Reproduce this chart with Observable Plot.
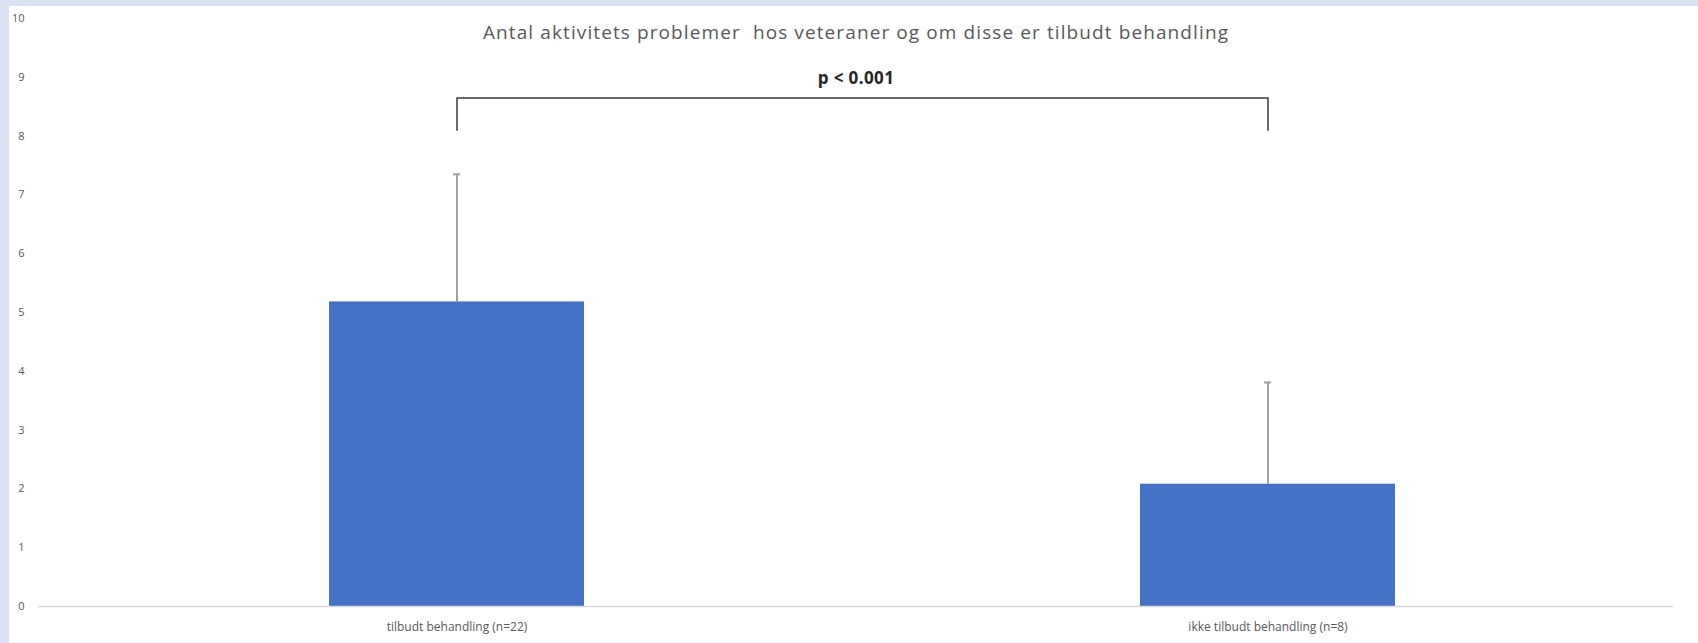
<!DOCTYPE html>
<html>
<head>
<meta charset="utf-8">
<script src="https://cdn.jsdelivr.net/npm/d3@7"></script>
<script src="https://cdn.jsdelivr.net/npm/@observablehq/plot@0.6"></script>
<style>
  html, body { margin: 0; padding: 0; background: #dae3f3; }
  #wrap { position: absolute; left: 9px; top: 6px; width: 1689px; height: 637px; background: #ffffff; }
  svg { font-family: "Open Sans", "Liberation Sans", sans-serif; }
  .ttl text { letter-spacing: 1.1px; }
  .pval text { letter-spacing: 0.4px; }
</style>
</head>
<body>
<div id="wrap"></div>
<script>
const categories = ["tilbudt behandling (n=22)", "ikke tilbudt behandling (n=8)"];
const means = [5.18, 2.08];
const sds = [2.17, 1.73];
const yTicks = [0, 1, 2, 3, 4, 5, 6, 7, 8, 9, 10];
const title = "Antal aktivitets problemer  hos veteraner og om disse er tilbudt behandling";
const pLabel = "p < 0.001";
const bracketLow = 8.1;
const bracketHigh = 8.65;

const rows = categories.map((c, i) => ({cat: c, mean: means[i], top: means[i] + sds[i]}));
const bracket = [
  {cat: categories[0], y: bracketLow},
  {cat: categories[0], y: bracketHigh},
  {cat: categories[1], y: bracketHigh},
  {cat: categories[1], y: bracketLow}
];

const chart = Plot.plot({
  width: 1689,
  height: 637,
  marginLeft: 29,
  marginRight: 25,
  marginTop: 12,
  marginBottom: 37,
  style: {background: "#ffffff", color: "#595959", fontSize: "11px"},
  x: {domain: categories, paddingInner: 0.685, paddingOuter: 0.35, align: 0.512, label: null},
  y: {domain: [0, 10], ticks: yTicks, label: null},
  marks: [
    Plot.axisY({ticks: yTicks, tickSize: 0, tickPadding: 14, fontSize: 11, fill: "#595959", label: null}),
    Plot.axisX({tickSize: 0, tickPadding: 16, fontSize: 12, fill: "#595959", label: null}),
    Plot.barY(rows, {x: "cat", y: "mean", fill: "#4472c4"}),
    Plot.ruleY([0], {stroke: "#d9d9d9", strokeWidth: 1.5}),
    Plot.ruleX(rows, {x: "cat", y1: "mean", y2: "top", stroke: "#a0a0a0", strokeWidth: 2}),
    Plot.tickY(rows, {x: "cat", y: "top", stroke: "#a0a0a0", strokeWidth: 2, insetLeft: 124, insetRight: 124}),
    Plot.line(bracket, {x: "cat", y: "y", stroke: "#3a3a3a", strokeWidth: 1.5, curve: "linear"}),
    Plot.text([pLabel], {frameAnchor: "top", lineAnchor: "middle", dy: 60, fontSize: 17, fontWeight: "bold", fill: "#262626", className: "pval"}),
    Plot.text([title], {frameAnchor: "top", lineAnchor: "middle", dy: 14.5, fontSize: 19, fill: "#595959", className: "ttl"})
  ]
});
document.getElementById("wrap").appendChild(chart);
</script>
</body>
</html>
